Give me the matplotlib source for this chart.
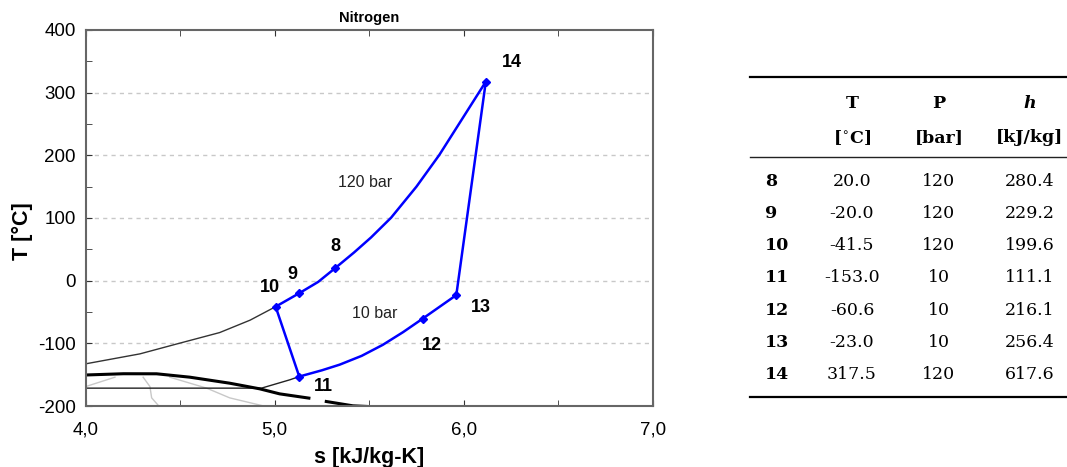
import numpy as np
import matplotlib.pyplot as plt
from matplotlib.lines import Line2D
from matplotlib.ticker import FuncFormatter, MultipleLocator

# state points (s in kJ/kg-K, T in degC, P in bar, h in kJ/kg)
states = ["8", "9", "10", "11", "12", "13", "14"]
s_pts = [5.32, 5.13, 5.005, 5.13, 5.783, 5.961, 6.117]
T_pts = [20.0, -20.0, -41.5, -153.0, -60.6, -23.0, 317.5]
P_pts = [120, 120, 120, 10, 10, 10, 120]
h_pts = [280.4, 229.2, 199.6, 111.1, 216.1, 256.4, 617.6]

# 120 bar isobar: 10 -> 9 -> 8 -> 14
s_hp = [5.005, 5.13, 5.23, 5.32, 5.42, 5.51, 5.616, 5.75, 5.871, 6.117]
T_hp = [-41.5, -20.0, -2.0, 20.0, 45.0, 69.0, 100.5, 150.0, 200.6, 317.5]
# 10 bar isobar: 11 -> 12 -> 13
s_lp = [5.13, 5.25, 5.344, 5.46, 5.572, 5.68, 5.783, 5.961]
T_lp = [-153.0, -143.0, -134.0, -120.0, -102.4, -82.0, -60.6, -23.0]
# 120 bar isobar continued to the left of 10
s_hp_ext = [4.0, 4.287, 4.498, 4.709, 4.87, 5.005]
T_hp_ext = [-132.7, -116.8, -99.7, -82.8, -63.0, -41.5]
# 10 bar isobar continued to the left of 11
s_lp_ext = [4.0, 4.93, 5.08, 5.13]
T_lp_ext = [-171.5, -171.5, -158.2, -153.0]
# saturated vapour line
s_sat = [4.0, 4.2, 4.375, 4.551, 4.762, 4.921, 5.026, 5.181, np.nan, 5.273, 5.414, 5.51]
T_sat = [-150.5, -148.5, -148.6, -154.0, -163.6, -172.6, -180.6, -187.4, np.nan, -192.8, -199.7, -201.0]
# light grey property lines
s_g1 = [4.0, 4.155]
T_g1 = [-169.0, -154.0]
s_g2 = [4.304, 4.34, 4.349, 4.39]
T_g2 = [-154.0, -169.0, -187.0, -201.0]
s_g3 = [4.445, 4.64, 4.762, 4.956]
T_g3 = [-154.0, -171.5, -187.0, -201.0]

plt.rcParams['font.family'] = ['Liberation Sans', 'DejaVu Sans']
plt.rcParams['axes.unicode_minus'] = False

fig = plt.figure(figsize=(10.67, 4.67), dpi=100)
ax = fig.add_axes([0.0803, 0.1306, 0.5314, 0.8052])

ax.plot(s_g1, T_g1, color="#c8c8c8", lw=1)
ax.plot(s_g2, T_g2, color="#c8c8c8", lw=1)
ax.plot(s_g3, T_g3, color="#c8c8c8", lw=1)
ax.plot(s_hp_ext, T_hp_ext, color="#333333", lw=1)
ax.plot(s_lp_ext, T_lp_ext, color="#222222", lw=1)
ax.plot(s_sat, T_sat, color="black", lw=2.2)

ax.plot(s_hp, T_hp, color="#0000ff", lw=1.8)
ax.plot(s_lp, T_lp, color="#0000ff", lw=1.8)
# throttling 10 -> 11 and compression 13 -> 14
ax.plot([s_pts[2], s_pts[3]], [T_pts[2], T_pts[3]], color="#0000ff", lw=1.8)
ax.plot([s_pts[5], s_pts[6]], [T_pts[5], T_pts[6]], color="#0000ff", lw=1.8)
ax.plot(s_pts, T_pts, ls="none", marker="D", ms=4, color="#0000ff")

offsets = {"8": (0.0, 35), "9": (-0.035, 30), "10": (-0.03, 30), "11": (0.13, -16),
           "12": (0.05, -43), "13": (0.13, -20), "14": (0.14, 31)}
for name, s, T in zip(states, s_pts, T_pts):
    dx, dy = offsets[name]
    ax.text(s + dx, T + dy, name, fontsize=13, fontweight="bold",
            ha="center", va="center")

ax.text(5.48, 157, "120 bar", fontsize=11.5, ha="center", va="center", color="#222222")
ax.text(5.53, -52, "10 bar", fontsize=11.5, ha="center", va="center", color="#222222")

ax.set_xlim(4.0, 7.0)
ax.set_ylim(-200, 400)
ax.xaxis.set_major_locator(MultipleLocator(1.0))
ax.xaxis.set_minor_locator(MultipleLocator(0.5))
ax.yaxis.set_major_locator(MultipleLocator(100))
ax.yaxis.set_minor_locator(MultipleLocator(50))
ax.xaxis.set_major_formatter(FuncFormatter(lambda v, p: f"{v:.1f}".replace(".", ",")))
ax.tick_params(which="both", direction="in", top=True, right=False, length=4,
               color="#333333", labelsize=13.5, pad=7)
ax.tick_params(axis="x", which="major", pad=11)
for v in [300, 200, 100, 0, -100]:
    ax.axhline(v, color="#c8c8c8", lw=1, ls=(0, (3, 3)), zorder=0)
for sp in ax.spines.values():
    sp.set_color("#666666")
    sp.set_linewidth(1.5)

ax.set_title("Nitrogen", fontsize=10.5, fontweight="bold", pad=6)
ax.set_xlabel("s [kJ/kg-K]", fontsize=15.5, fontweight="bold", labelpad=6)
ax.set_ylabel("T [°C]", fontsize=15.5, fontweight="bold")
ax.yaxis.set_label_coords(-0.093, 0.465)

# state table drawn on an overlay in pixel coordinates
tab = fig.add_axes([0, 0, 1, 1])
tab.set_xlim(0, 1067)
tab.set_ylim(467, 0)
tab.axis("off")
serif = ['DejaVu Serif']
tab.add_line(Line2D([750, 1067], [77, 77], color="black", lw=1.6))
tab.add_line(Line2D([750, 1067], [157, 157], color="#222222", lw=1.0))
tab.add_line(Line2D([750, 1067], [397, 397], color="black", lw=1.6))

col_x = [852, 939, 1030]
tab.text(col_x[0], 103, "T", family=serif, fontsize=12.5, fontweight="bold", ha="center", va="center")
tab.text(col_x[1], 103, "P", family=serif, fontsize=12.5, fontweight="bold", ha="center", va="center")
tab.text(col_x[2], 103, "h", family=serif, fontsize=12.5, fontweight="bold", style="italic",
         ha="center", va="center")
tab.text(col_x[0], 138, "[$^{\\circ}$C]", family=serif, fontsize=12.5, fontweight="bold",
         ha="center", va="center")
tab.text(col_x[1], 138, "[bar]", family=serif, fontsize=12.5, fontweight="bold", ha="center", va="center")
tab.text(col_x[2], 138, "[kJ/kg]", family=serif, fontsize=12.5, fontweight="bold", ha="center", va="center")

for i, name in enumerate(states):
    y = 181 + i * 32.3
    tab.text(765, y, name, family=serif, fontsize=12.5, fontweight="bold", ha="left", va="center")
    tab.text(col_x[0], y, f"{T_pts[i]:.1f}", family=serif, fontsize=12.5, ha="center", va="center")
    tab.text(col_x[1], y, f"{P_pts[i]}", family=serif, fontsize=12.5, ha="center", va="center")
    tab.text(col_x[2], y, f"{h_pts[i]:.1f}", family=serif, fontsize=12.5, ha="center", va="center")

fig.savefig("out.png", dpi=100)
